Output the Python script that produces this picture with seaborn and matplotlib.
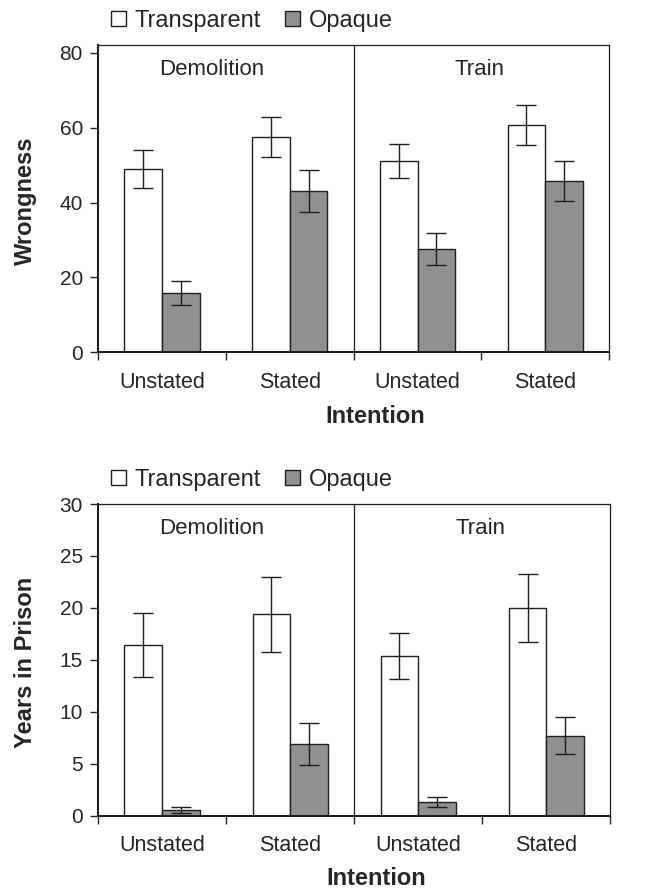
import matplotlib
matplotlib.use("Agg")
import matplotlib.pyplot as plt
import seaborn as sns
import pandas as pd

# data
scenarios = ["Demolition", "Demolition", "Train", "Train"]
intentions = ["Unstated", "Stated", "Unstated", "Stated"]
conditions = ["Transparent", "Opaque"]

wrong_transparent = [49.0, 57.6, 51.2, 60.7]
wrong_opaque = [15.9, 43.2, 27.7, 45.8]
wrong_err_transparent = [5.1, 5.3, 4.5, 5.4]
wrong_err_opaque = [3.2, 5.6, 4.3, 5.4]

prison_transparent = [16.4, 19.4, 15.4, 20.0]
prison_opaque = [0.55, 6.9, 1.3, 7.7]
prison_err_transparent = [3.1, 3.6, 2.2, 3.3]
prison_err_opaque = [0.3, 2.0, 0.5, 1.8]

colors = {"Transparent": "white", "Opaque": "#8f9094"}
edge = "#1f1f1f"


def make_frame(trans, opaq):
    slots = [f"{s} {i}" for s, i in zip(scenarios, intentions)]
    rows = []
    for slot, v in zip(slots, trans):
        rows.append({"slot": slot, "condition": "Transparent", "value": v})
    for slot, v in zip(slots, opaq):
        rows.append({"slot": slot, "condition": "Opaque", "value": v})
    return pd.DataFrame(rows), slots


def panel(fig, rect, trans, opaq, err_t, err_o, ymax, yticks, ylabel,
          xlabel_y, title_y, legend_y):
    ax = fig.add_axes(rect)
    df, slots = make_frame(trans, opaq)
    sns.barplot(data=df, x="slot", y="value", hue="condition", order=slots,
                hue_order=conditions, palette=colors, width=0.59,
                edgecolor=edge, linewidth=1.0, errorbar=None, ax=ax)

    # error bars on each bar
    for cont, errs in zip(ax.containers, [err_t, err_o]):
        for bar, e in zip(cont, errs):
            ax.errorbar(bar.get_x() + bar.get_width() / 2, bar.get_height(),
                        yerr=e, fmt="none", ecolor=edge, elinewidth=1.0,
                        capsize=7, capthick=1.0, zorder=5)

    ax.set_xlim(-0.5, 3.5)
    ax.set_ylim(0, ymax)
    ax.set_yticks(yticks)
    ax.axvline(1.5, color=edge, lw=0.9)

    # ticks between categories, labels at the centres
    ax.set_xticks([-0.5, 0.5, 1.5, 2.5, 3.5])
    ax.set_xticklabels([])
    ax.set_xticks(range(4), minor=True)
    ax.set_xticklabels(intentions, minor=True, fontsize=15.5)
    ax.tick_params(axis="x", which="major", length=6, width=1, direction="out")
    ax.tick_params(axis="x", which="minor", length=0, pad=14)
    ax.tick_params(axis="y", length=6, width=1, direction="out", pad=5,
                   labelsize=15)

    for side in ["top", "right"]:
        ax.spines[side].set_visible(True)
        ax.spines[side].set_linewidth(0.9)
        ax.spines[side].set_color(edge)
    for side in ["left", "bottom"]:
        ax.spines[side].set_linewidth(1.5)
        ax.spines[side].set_color(edge)

    ax.set_xlabel("Intention", fontsize=17, fontweight="bold")
    ax.set_ylabel(ylabel, fontsize=17, fontweight="bold")
    ax.xaxis.set_label_coords(0.543, xlabel_y)
    ax.yaxis.set_label_coords(-0.12, 0.492)

    ax.text(0.388, title_y, "Demolition", fontsize=16, ha="center", va="center")
    ax.text(2.487, title_y, "Train", fontsize=16, ha="center", va="center")

    handles, labels = ax.get_legend_handles_labels()
    ax.legend(handles, labels, loc="center left",
              bbox_to_anchor=(111 / 646, legend_y),
              bbox_transform=fig.transFigure, frameon=False, ncol=2,
              fontsize=17, borderpad=0, borderaxespad=0,
              handlelength=0.63, handleheight=0.63, handletextpad=0.35,
              columnspacing=1.05)
    return ax


sns.set_style("ticks")
plt.rcParams["font.family"] = ["Liberation Sans", "DejaVu Sans"]

fig = plt.figure(figsize=(6.46, 8.93), dpi=100)

panel(fig, [0.152, 0.6055, 0.791, 0.3445], wrong_transparent, wrong_opaque,
      wrong_err_transparent, wrong_err_opaque, 82.2, [0, 20, 40, 60, 80],
      "Wrongness", -0.171, 75.6, 1 - 21 / 893)
panel(fig, [0.152, 0.0866, 0.793, 0.349], prison_transparent, prison_opaque,
      prison_err_transparent, prison_err_opaque, 30, [0, 5, 10, 15, 20, 25, 30],
      "Years in Prison", -0.165, 27.66, 1 - 480 / 893)

fig.savefig("out.png", dpi=100)
